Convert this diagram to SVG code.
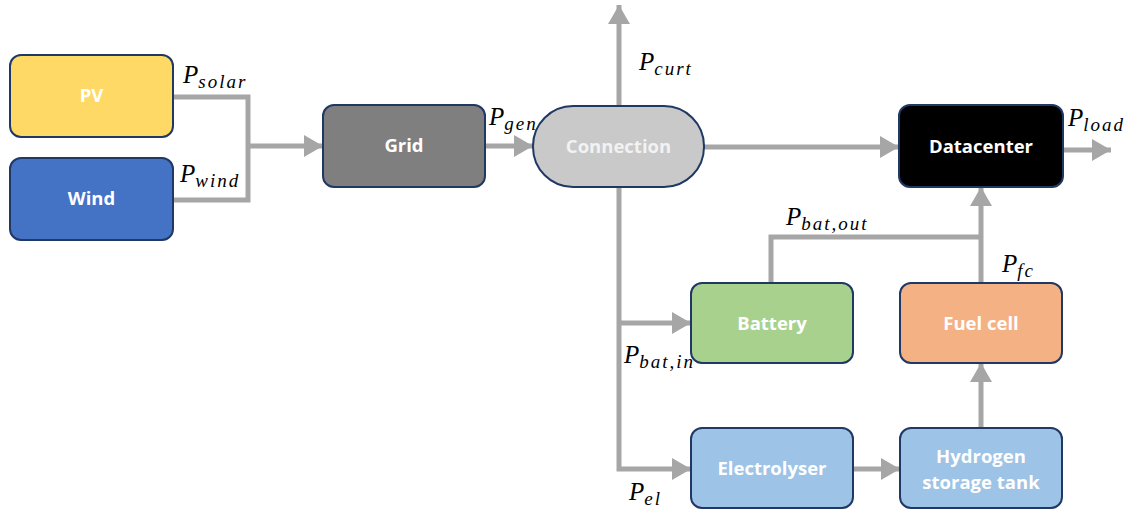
<svg xmlns="http://www.w3.org/2000/svg" width="1128" height="510" viewBox="0 0 1128 510">
<defs>
<style>
.node{stroke:#203864;stroke-width:2}
.lbl{font-family:"Open Sans","Liberation Sans",sans-serif;font-weight:bold;font-size:18.5px;fill:#FFFFFF;text-anchor:middle}
.m{font-family:"Liberation Serif",serif;font-style:italic;font-size:25px;fill:#000}
.sub{font-size:19px;letter-spacing:2px}
.c{fill:none;stroke:#A6A6A6;stroke-width:5}
</style>
<marker id="ah" markerUnits="userSpaceOnUse" markerWidth="20" markerHeight="22" refX="19" refY="11" orient="auto">
<path d="M0,0 L19,11 L0,22 z" fill="#A6A6A6"/>
</marker>
</defs>
<rect width="1128" height="510" fill="#FFFFFF"/>
<g id="connectors">
<polyline class="c" points="173,97 248,97 248,200 173,200"/>
<line class="c" x1="248" y1="146" x2="323" y2="146" marker-end="url(#ah)"/>
<line class="c" x1="485" y1="146" x2="533" y2="146" marker-end="url(#ah)"/>
<line class="c" x1="619" y1="106" x2="619" y2="5" marker-end="url(#ah)"/>
<line class="c" x1="704" y1="147" x2="899" y2="147" marker-end="url(#ah)"/>
<line class="c" x1="1063" y1="150" x2="1111" y2="150" marker-end="url(#ah)"/>
<line class="c" x1="981" y1="283" x2="981" y2="187" marker-end="url(#ah)"/>
<polyline class="c" points="771,283 771,237 981,237"/>
<polyline class="c" points="619,187 619,469 691,469" marker-end="url(#ah)"/>
<line class="c" x1="619" y1="323" x2="691" y2="323" marker-end="url(#ah)"/>
<line class="c" x1="853" y1="469" x2="900" y2="469" marker-end="url(#ah)"/>
<line class="c" x1="981" y1="428" x2="981" y2="363" marker-end="url(#ah)"/>
</g>
<g id="pv"><rect class="node" x="10" y="55" width="163" height="82" rx="11" fill="#FFD966"/><text class="lbl" x="91.5" y="102">PV</text></g>
<g id="wind"><rect class="node" x="10" y="158" width="163" height="82" rx="11" fill="#4472C4"/><text class="lbl" x="91.5" y="205">Wind</text></g>
<g id="grid"><rect class="node" x="323" y="105" width="162" height="82" rx="11" fill="#7F7F7F"/><text class="lbl" x="404" y="152">Grid</text></g>
<g id="connection"><rect class="node" x="533" y="106" width="171" height="81" rx="40" fill="#C9C9C9"/><text class="lbl" x="618.5" y="153" style="fill:#F2F2F2">Connection</text></g>
<g id="datacenter"><rect class="node" x="899" y="105" width="164" height="82" rx="11" fill="#000000"/><text class="lbl" x="981" y="153">Datacenter</text></g>
<g id="battery"><rect class="node" x="691" y="283" width="162" height="80" rx="11" fill="#A9D18E"/><text class="lbl" x="772" y="330">Battery</text></g>
<g id="fuelcell"><rect class="node" x="900" y="283" width="162" height="80" rx="11" fill="#F4B183"/><text class="lbl" x="981" y="330">Fuel cell</text></g>
<g id="electrolyser"><rect class="node" x="691" y="428" width="162" height="80" rx="11" fill="#9DC3E6"/><text class="lbl" x="772" y="475">Electrolyser</text></g>
<g id="hydrogen"><rect class="node" x="900" y="428" width="162" height="80" rx="11" fill="#9DC3E6"/><text class="lbl" x="981" y="463">Hydrogen</text><text class="lbl" x="981" y="489">storage tank</text></g>
<g id="labels">
<text class="m" x="183" y="83">P<tspan class="sub" dy="5">solar</tspan></text>
<text class="m" x="180" y="182">P<tspan class="sub" dy="5">wind</tspan></text>
<text class="m" x="489" y="125">P<tspan class="sub" dy="5">gen</tspan></text>
<text class="m" x="639" y="70">P<tspan class="sub" dy="5">curt</tspan></text>
<text class="m" x="1068" y="126">P<tspan class="sub" dy="5">load</tspan></text>
<text class="m" x="786" y="225">P<tspan class="sub" dy="5">bat,out</tspan></text>
<text class="m" x="1002" y="272">P<tspan class="sub" dy="5">fc</tspan></text>
<text class="m" x="624" y="363">P<tspan class="sub" dy="5">bat,in</tspan></text>
<text class="m" x="629" y="500">P<tspan class="sub" dy="5">el</tspan></text>
</g>
</svg>
